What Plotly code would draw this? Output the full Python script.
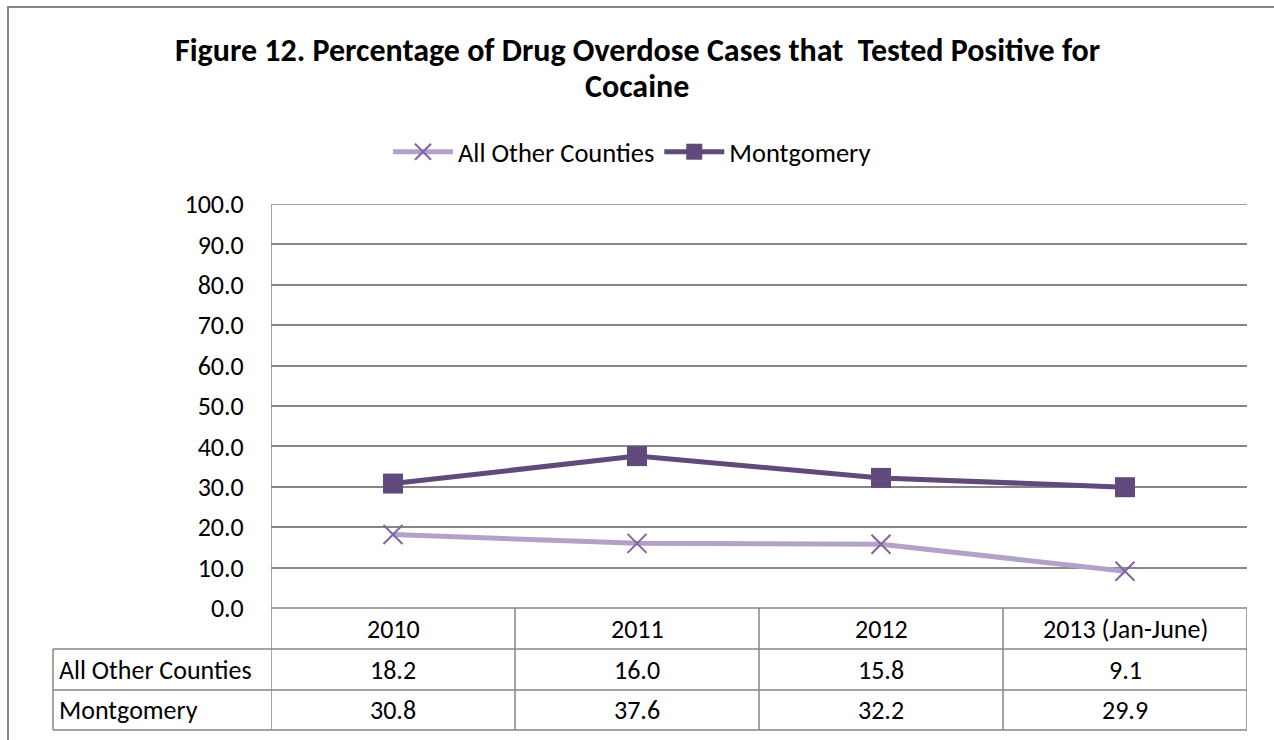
import plotly.graph_objects as go

categories = ["2010", "2011", "2012", "2013 (Jan-June)"]
other_counties = [18.2, 16.0, 15.8, 9.1]
montgomery = [30.8, 37.6, 32.2, 29.9]
series_names = ["All Other Counties", "Montgomery"]
title_lines = ["Figure 12. Percentage of Drug Overdose Cases that&nbsp; Tested Positive for", "Cocaine"]

FONT = "Carlito, Calibri, Lato, sans-serif"
GRID = "#868686"

W, H = 1274, 740
L, R, T, B = 271, 1247, 204, 608
pw, ph = R - L, B - T

def px(xp):
    return (xp - L) / pw

def py(yp):
    return (B - yp) / ph

xs = list(range(len(categories)))

fig = go.Figure()
fig.add_trace(go.Scatter(
    x=xs, y=other_counties, name=series_names[0], mode="lines+markers",
    line=dict(color="#B3A2C7", width=5),
    marker=dict(symbol="x-thin", size=19, color="#8064A2",
                line=dict(color="#8064A2", width=2)),
    cliponaxis=False,
))
fig.add_trace(go.Scatter(
    x=xs, y=montgomery, name=series_names[1], mode="lines+markers",
    line=dict(color="#604A7B", width=5),
    marker=dict(symbol="square", size=20, color="#604A7B"),
    cliponaxis=False,
))

shapes = []
# outer chart border
shapes.append(dict(type="rect", xref="paper", yref="paper",
                   x0=px(8), x1=px(1300), y0=py(7), y1=py(780),
                   line=dict(color=GRID, width=2), layer="below"))
# top gridline (100)
shapes.append(dict(type="line", xref="paper", yref="y", x0=0, x1=1, y0=100, y1=100,
                   line=dict(color=GRID, width=1.5)))
# table: vertical lines at category boundaries
row_tops = [608, 649, 690, 730]
for i in range(len(categories) + 1):
    shapes.append(dict(type="line", xref="x", yref="paper",
                       x0=i - 0.5, x1=i - 0.5,
                       y0=py(204 if i == 0 else 608), y1=py(730),
                       line=dict(color=GRID, width=1.5)))
# row label box left edge
shapes.append(dict(type="line", xref="paper", yref="paper",
                   x0=px(53), x1=px(53), y0=py(649), y1=py(730),
                   line=dict(color=GRID, width=1.5)))
# horizontal table lines
for k, yy in enumerate(row_tops):
    if k == 0:
        shapes.append(dict(type="line", xref="x", yref="paper",
                           x0=-0.5, x1=len(categories) - 0.5, y0=py(yy), y1=py(yy),
                           line=dict(color=GRID, width=1.5)))
    else:
        shapes.append(dict(type="line", xref="paper", yref="paper",
                           x0=px(53), x1=1, y0=py(yy), y1=py(yy),
                           line=dict(color=GRID, width=1.5)))

annotations = []
for txt, yc in zip(title_lines, [50, 87]):
    annotations.append(dict(text=txt, xref="paper", yref="paper",
                            x=px(637), y=py(yc), xanchor="center", yanchor="middle",
                            showarrow=False, align="center",
                            font=dict(family=FONT, size=32, color="#000000", weight="bold")))
row_centers = [628.5, 669.5, 710]
tfont = dict(family=FONT, size=26, color="#000000")
for i, c in enumerate(categories):
    annotations.append(dict(text=c, xref="x", yref="paper", x=i, y=py(row_centers[0]),
                            showarrow=False, xanchor="center", yanchor="middle", font=tfont))
    annotations.append(dict(text=f"{other_counties[i]:.1f}", xref="x", yref="paper", x=i,
                            y=py(row_centers[1]), showarrow=False, xanchor="center",
                            yanchor="middle", font=tfont))
    annotations.append(dict(text=f"{montgomery[i]:.1f}", xref="x", yref="paper", x=i,
                            y=py(row_centers[2]), showarrow=False, xanchor="center",
                            yanchor="middle", font=tfont))
for j, name in enumerate(series_names):
    annotations.append(dict(text=name, xref="paper", yref="paper", x=px(57),
                            y=py(row_centers[j + 1]), showarrow=False, xanchor="left",
                            yanchor="middle", font=tfont))

fig.update_layout(
    width=W, height=H,
    margin=dict(l=L, r=W - R, t=T, b=H - B, pad=0),
    paper_bgcolor="white", plot_bgcolor="white",
    font=dict(family=FONT, size=26, color="#000000"),
    showlegend=True,
    legend=dict(orientation="h", x=px(632), xanchor="center", y=py(152), yanchor="middle",
                font=dict(family=FONT, size=26.5, color="#000000"),
                itemwidth=60, tracegroupgap=0, bgcolor="rgba(0,0,0,0)"),
    xaxis=dict(range=[-0.5, len(categories) - 0.5], showticklabels=False, showgrid=False,
               zeroline=False, showline=False, fixedrange=True),
    yaxis=dict(range=[0, 100], dtick=10, tick0=0, tickformat=".1f", showgrid=True,
               gridcolor=GRID, gridwidth=1.5, zeroline=False, showline=False,
               ticks="outside", ticklen=21, tickcolor="rgba(0,0,0,0)",
               tickfont=dict(family=FONT, size=26, color="#000000")),
    shapes=shapes, annotations=annotations,
)
fig.write_html("out.html")
